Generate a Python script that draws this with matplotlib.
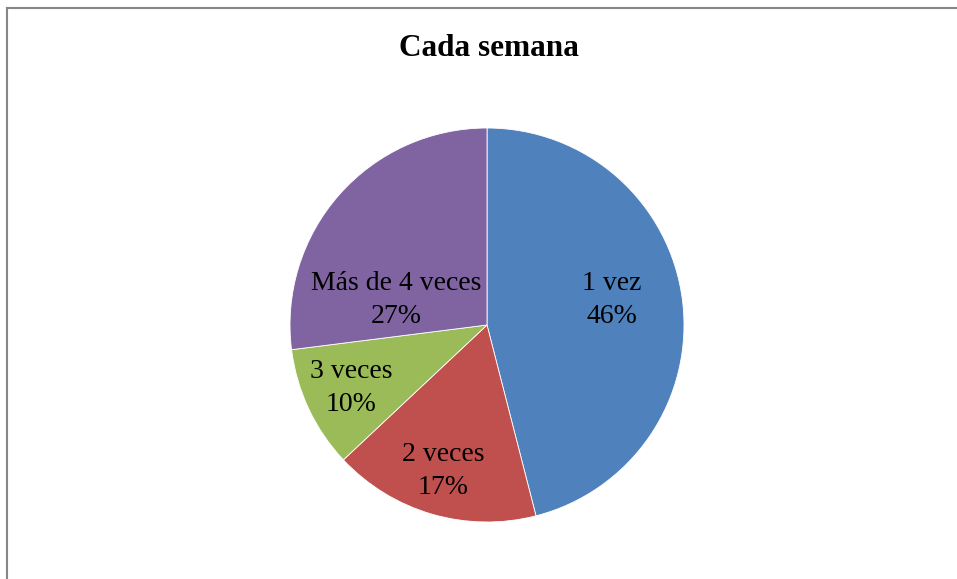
import matplotlib
matplotlib.use("Agg")
import matplotlib.pyplot as plt
from matplotlib.lines import Line2D

title = "Cada semana"
categories = ["1 vez", "2 veces", "3 veces", "Más de 4 veces"]
values = [46, 17, 10, 27]
colors = ["#4F81BD", "#C0504D", "#9BBB59", "#8064A2"]

W, H = 957, 579
fig = plt.figure(figsize=(W / 100, H / 100), dpi=100)

# pie geometry in pixels
cx, cy, r = 487, 325, 197
half = 205
ax = fig.add_axes([(cx - half) / W, (H - cy - half) / H, 2 * half / W, 2 * half / H])

wedges, _ = ax.pie(values, colors=colors, startangle=90, counterclock=False,
                   radius=1.0, wedgeprops=dict(edgecolor="white", linewidth=0.6))
lim = half / r
ax.set_xlim(-lim, lim)
ax.set_ylim(-lim, lim)
ax.set_aspect("equal")
ax.axis("off")

# label offsets (layout, in units of radius)
label_pos = [(0.635, 0.127), (-0.223, -0.741), (-0.69, -0.32), (-0.462, 0.127)]
for (lx, ly), c, v in zip(label_pos, categories, values):
    ax.text(lx, ly, f"{c}\n{v}%", ha="center", va="center", fontsize=20,
            family="Liberation Serif", linespacing=1.4, color="black")

fig.text(489 / W, 1 - 48 / H, title, ha="center", va="center", fontsize=22.5,
         fontweight="bold", family="Liberation Serif")

# chart border (left and top)
fig.add_artist(Line2D([7.5 / W, 7.5 / W], [0, 1 - 7.5 / H], transform=fig.transFigure,
                      color="#868686", linewidth=1.5))
fig.add_artist(Line2D([7.5 / W, 1], [1 - 7.5 / H, 1 - 7.5 / H], transform=fig.transFigure,
                      color="#868686", linewidth=1.5))

fig.savefig("out.png", dpi=100, facecolor="white")
